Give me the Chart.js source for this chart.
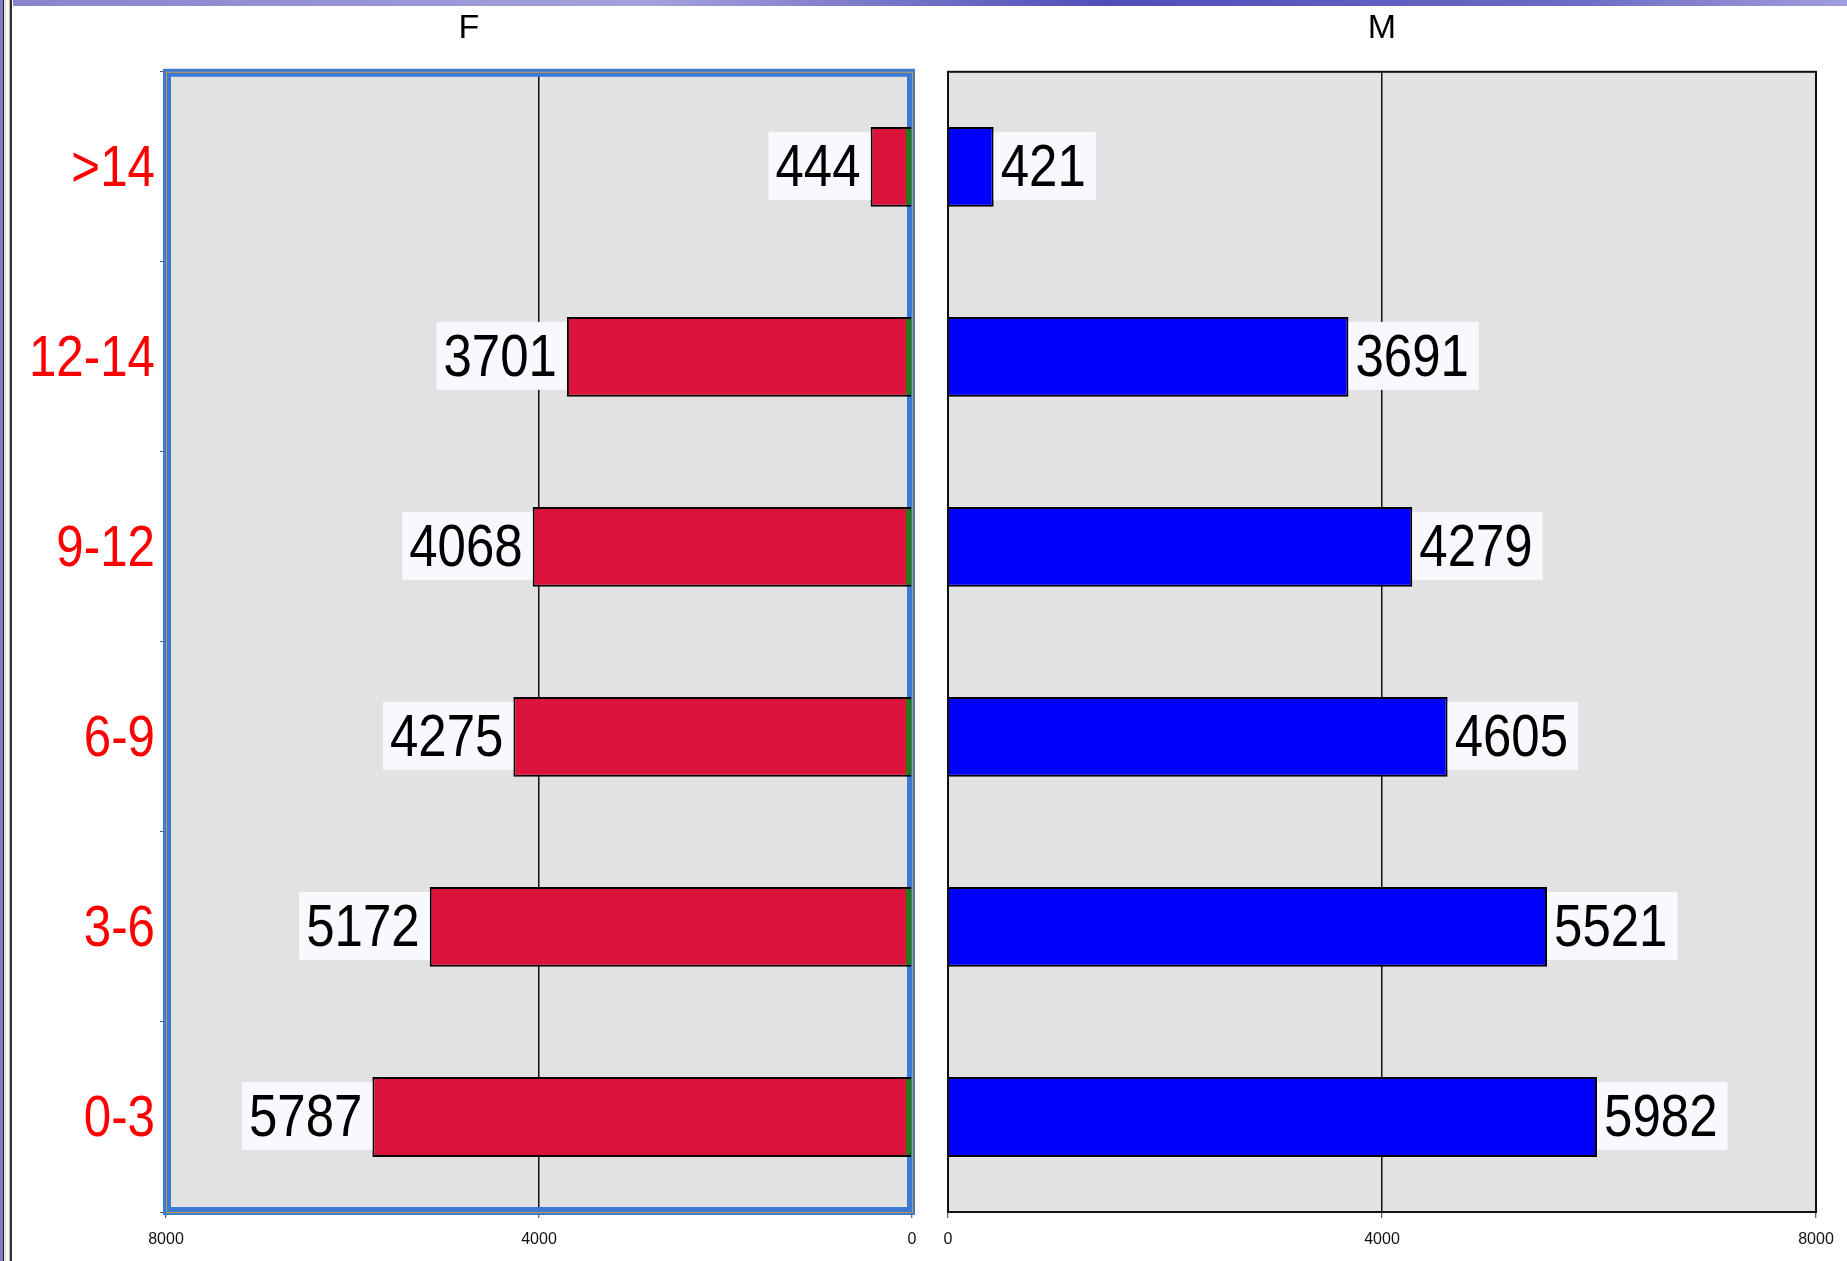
<!DOCTYPE html>
<html>
<head>
<meta charset="utf-8">
<title>F / M</title>
<script src="https://cdn.jsdelivr.net/npm/chart.js@4.4.1/dist/chart.umd.min.js"></script>
<style>
  html, body { margin: 0; padding: 0; background: #fff; }
  body { width: 1847px; height: 1261px; position: relative; overflow: hidden; }
  #topbar { position: absolute; left: 0; top: 0; width: 1847px; height: 6px; z-index: 2;
    background: linear-gradient(to right, #8684cc, #a4a2dc 35%, #504db8 60%, #6c6ac4 85%, #a09edc); }
  #edge { position: absolute; left: 0; top: 0; width: 13px; height: 1261px; z-index: 2;
    background: linear-gradient(to right, #7c7ac8 0 3px, #222 3px 4px, #e4e4dc 4px 6px, #f8f8f0 6px 9px, #b8b8b0 9px 10px, #333 10px 12px, #fff 12px); }
  #chartF { position: absolute; left: 0; top: 0; }
  #chartM { position: absolute; left: 930px; top: 0; }
</style>
</head>
<body>
<div id="topbar"></div>
<div id="edge"></div>
<canvas id="chartF" width="938" height="1261"></canvas>
<canvas id="chartM" width="917" height="1261"></canvas>
<script>
const ageGroups = ['>14', '12-14', '9-12', '6-9', '3-6', '0-3'];
const femaleCounts = [444, 3701, 4068, 4275, 5172, 5787];
const maleCounts = [421, 3691, 4279, 4605, 5521, 5982];
const axisMax = 8000;
const axisStep = 4000;

const FONT = '"Liberation Sans", Arial, sans-serif';
// the original uses a condensed face, squeeze the big labels a bit
const squeeze = 0.85;

function drawSqueezed(ctx, text, x, y, align) {
    const w = ctx.measureText(text).width * squeeze;
    ctx.save();
    ctx.translate(align === 'right' ? x - w : x, y);
    ctx.scale(squeeze, 1);
    ctx.fillText(text, 0, 0);
    ctx.restore();
    return w;
}

const panelDecor = {
    id: 'panelDecor',
    beforeDraw(chart) {
        const a = chart.chartArea;
        const ctx = chart.ctx;
        ctx.save();
        ctx.fillStyle = '#e2e2e2';
        ctx.fillRect(a.left, a.top, a.right - a.left, a.bottom - a.top);
        ctx.restore();
    },
    beforeDatasetsDraw(chart, args, opts) {
        if (opts.side !== 'left') return;
        const a = chart.chartArea;
        const ctx = chart.ctx;
        ctx.save();
        ctx.strokeStyle = '#3b7bd6';
        ctx.lineWidth = 8;
        ctx.strokeRect(a.left + 1, a.top + 1, a.right - a.left - 2, a.bottom - a.top - 2);
        ctx.restore();
    },
    afterDatasetsDraw(chart, args, opts) {
        const a = chart.chartArea;
        const ctx = chart.ctx;
        const meta = chart.getDatasetMeta(0);
        const values = chart.data.datasets[0].data;
        ctx.save();
        if (opts.side === 'left') {
            // green strip on the zero end of the bars
            ctx.fillStyle = '#1f7d10';
            meta.data.forEach(bar => {
                const p = bar.getProps(['x', 'y', 'base', 'height'], true);
                ctx.fillRect(p.base - 5, p.y - p.height / 2 + 2, 5, p.height - 4);
            });
            ctx.strokeStyle = '#c8963c';
            ctx.lineWidth = 1;
            ctx.strokeRect(a.left + 0.5, a.top + 0.5, a.right - a.left, a.bottom - a.top);

            // category labels, red, right aligned against the axis
            const yScale = chart.scales.y;
            ctx.fillStyle = '#ff0000';
            ctx.font = '58px ' + FONT;
            ctx.textBaseline = 'alphabetic';
            yScale.ticks.forEach((t, i) => {
                const yy = yScale.getPixelForTick(i);
                drawSqueezed(ctx, yScale.getLabelForValue(t.value), a.left - 11, yy + 19, 'right');
            });
        } else {
            ctx.strokeStyle = '#111';
            ctx.lineWidth = 2;
            ctx.strokeRect(a.left, a.top, a.right - a.left, a.bottom - a.top);
        }

        // value labels
        ctx.font = '60px ' + FONT;
        ctx.textBaseline = 'alphabetic';
        meta.data.forEach((bar, i) => {
            const p = bar.getProps(['x', 'y'], true);
            const text = String(values[i]);
            const tw = ctx.measureText(text).width * squeeze;
            const bw = tw + 17;
            const bh = 68;
            const bx = opts.side === 'left' ? p.x - bw : p.x;
            ctx.fillStyle = '#f8f8ff';
            ctx.fillRect(bx, p.y - bh / 2 - 1, bw, bh);
            ctx.fillStyle = '#000';
            drawSqueezed(ctx, text, bx + 7, p.y + 19, 'left');
        });
        ctx.restore();
    }
};

function xScale(reverse) {
    return {
        type: 'linear',
        reverse: reverse,
        min: 0,
        max: axisMax,
        border: { display: false },
        grid: {
            color: c => (c.tick && c.tick.value === axisStep) ? '#111' : 'rgba(0,0,0,0)',
            lineWidth: 1.5,
            tickColor: '#333',
            tickLength: 6,
            tickWidth: 1
        },
        ticks: {
            stepSize: axisStep,
            color: '#111',
            padding: 12,
            maxRotation: 0,
            font: { family: FONT, size: 16 },
            callback: v => String(v)
        },
        afterFit(scale) { scale.height = 49; }
    };
}

function makeChart(id, title, values, color, side) {
    const isLeft = side === 'left';
    return new Chart(document.getElementById(id), {
        type: 'bar',
        data: {
            labels: ageGroups,
            datasets: [{
                label: title,
                data: values,
                backgroundColor: color,
                borderColor: '#000',
                borderWidth: 2,
                borderSkipped: 'start',
                barPercentage: 0.42,
                categoryPercentage: 1.0
            }]
        },
        options: {
            indexAxis: 'y',
            responsive: false,
            animation: false,
            layout: {
                padding: isLeft ? { left: 26, right: 26, top: 0, bottom: 0 }
                                : { left: 18, right: 31, top: 0, bottom: 0 }
            },
            scales: {
                x: xScale(isLeft),
                y: {
                    display: isLeft,
                    border: { display: false },
                    grid: {
                        drawOnChartArea: false,
                        tickColor: '#555',
                        tickLength: 6
                    },
                    ticks: { display: false },
                    afterFit(scale) { if (isLeft) scale.width = 140; }
                }
            },
            plugins: {
                legend: { display: false },
                tooltip: { enabled: false },
                title: {
                    display: true,
                    text: title,
                    color: '#000',
                    padding: { top: 8, bottom: 23 },
                    font: { family: FONT, size: 34, weight: 'normal' }
                },
                panelDecor: { side: side }
            }
        },
        plugins: [panelDecor]
    });
}

const chartF = makeChart('chartF', 'F', femaleCounts, '#dc143c', 'left');
const chartM = makeChart('chartM', 'M', maleCounts, '#0000ff', 'right');
</script>
</body>
</html>
